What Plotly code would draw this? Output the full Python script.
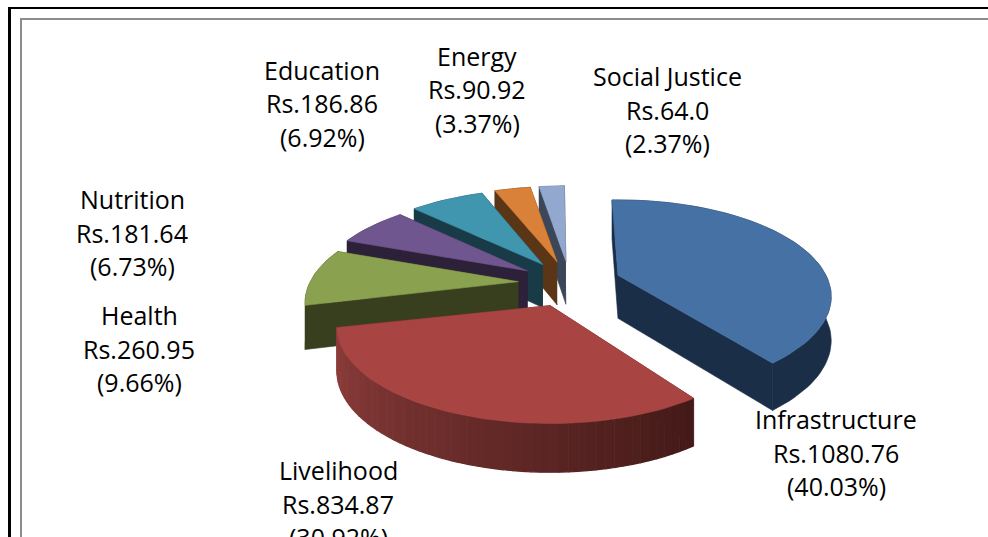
import numpy as np
import plotly.graph_objects as go

# Data, in chart order (clockwise from twelve o'clock)
categories = ["Infrastructure", "Livelihood", "Health", "Nutrition", "Education", "Energy", "Social Justice"]
values = [1080.76, 834.87, 260.95, 181.64, 186.86, 90.92, 64.0]
value_labels = ["Rs.1080.76", "Rs.834.87", "Rs.260.95", "Rs.181.64", "Rs.186.86", "Rs.90.92", "Rs.64.0"]
percent_labels = ["(40.03%)", "(30.92%)", "(9.66%)", "(6.73%)", "(6.92%)", "(3.37%)", "(2.37%)"]

# Styles
top_colors = ["#4571A5", "#A84543", "#8AA24F", "#70568F", "#4096AE", "#D98138", "#92A8CF"]
wall_colors = ["#1B2E47", "#5A2220", "#383F1E", "#2C2139", "#193B47", "#5A3516", "#3B4759"]
label_centers = [(836, 419), (338, 470), (139, 315), (132, 199), (322, 70), (477, 56), (667, 76)]
slice_turn_deg = [-2.0, 1.5, 0.5, 0.5, 0.0, -0.5, -0.5]
draw_order = [6, 5, 4, 3, 2, 0, 1]
LINE_GAP = 33.5
FONT = dict(family="Open Sans, Noto Sans, sans-serif", size=25, color="#000000")

# Projection of the tilted disc
CX, CY, A, B, K, EXPLODE, DEPTH = 570, 283, 208, 92, 0.22, 0.25, 43


def project(theta, r=1.0):
    X = r * np.sin(theta)
    Y = -r * np.cos(theta)
    w = 1 - K * Y
    return A * X / w, B * Y / w, w


def hex_mix(c1, c2, t):
    a = [int(c1[i:i + 2], 16) for i in (1, 3, 5)]
    b = [int(c2[i:i + 2], 16) for i in (1, 3, 5)]
    return "#" + "".join(f"{round(p + (q - p) * t):02x}" for p, q in zip(a, b))


def poly(xs, ys, color, width=0.6):
    return go.Scatter(x=list(xs), y=list(ys), mode="lines", fill="toself", fillcolor=color,
                      line=dict(color=color, width=width), hoverinfo="skip", showlegend=False)


total = sum(values)
edges = np.concatenate([[0], np.cumsum(values)]) / total * 2 * np.pi

fig = go.Figure()
for i in draw_order:
    turn = np.radians(slice_turn_deg[i])
    t0, t1 = edges[i] + turn, edges[i + 1] + turn
    mid = (t0 + t1) / 2
    ax, ay, _ = project(np.array(mid), EXPLODE)
    ax, ay = CX + ax, CY + ay
    th = np.linspace(t0, t1, max(int(np.degrees(t1 - t0) / 2), 2) + 1)
    px, py, w = project(th)
    rx, ry = ax + px, ay + py
    d = DEPTH / np.sqrt(w)
    # radial walls
    fig.add_trace(poly([ax, rx[0], rx[0], ax], [ay, ry[0], ry[0] + d[0], ay + DEPTH], wall_colors[i]))
    fig.add_trace(poly([ax, rx[-1], rx[-1], ax], [ay, ry[-1], ry[-1] + d[-1], ay + DEPTH], wall_colors[i]))
    # outer wall
    if categories[i] == "Livelihood":
        for j in range(len(th) - 1):
            c = hex_mix("#431A18", "#8F3E3C", j / (len(th) - 2))
            fig.add_trace(poly([rx[j], rx[j + 1], rx[j + 1], rx[j]],
                               [ry[j], ry[j + 1], ry[j + 1] + d[j + 1], ry[j] + d[j]], c, 1.2))
    else:
        fig.add_trace(poly(np.r_[rx, rx[::-1]], np.r_[ry, (ry + d)[::-1]], wall_colors[i]))
    # top face
    fig.add_trace(poly(np.r_[ax, rx, ax], np.r_[ay, ry, ay], top_colors[i]))

annotations = []
for name, val, pct, (lx, ly) in zip(categories, value_labels, percent_labels, label_centers):
    for n, line in enumerate((name, val, pct)):
        annotations.append(dict(text=line, xref="paper", yref="paper", x=lx / 988,
                                y=1 - (ly + n * LINE_GAP) / 537, xanchor="center", yanchor="middle",
                                showarrow=False, font=FONT))

H = "#8c8c8c"
shapes = [
    dict(type="line", xref="x", yref="y", x0=8, x1=988, y0=8, y1=8, line=dict(color="black", width=2)),
    dict(type="line", xref="x", yref="y", x0=9.5, x1=9.5, y0=7, y1=537, line=dict(color="black", width=3)),
    dict(type="line", xref="x", yref="y", x0=20, x1=988, y0=19, y1=19, line=dict(color=H, width=2)),
    dict(type="line", xref="x", yref="y", x0=21, x1=21, y0=18, y1=537, line=dict(color=H, width=2)),
]

fig.update_layout(
    width=988, height=537, margin=dict(l=0, r=0, t=0, b=0),
    paper_bgcolor="white", plot_bgcolor="white", showlegend=False,
    xaxis=dict(range=[0, 988], visible=False, fixedrange=True),
    yaxis=dict(range=[537, 0], visible=False, fixedrange=True),
    annotations=annotations, shapes=shapes,
)
fig.write_html("out.html", config={"displayModeBar": False},
               post_script="document.body.style.margin='0';document.body.style.overflow='hidden';")
